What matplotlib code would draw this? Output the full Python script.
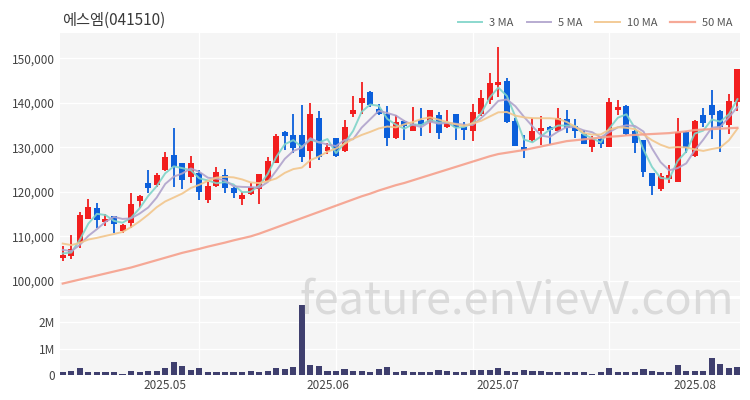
import numpy as np
import pandas as pd
import matplotlib
matplotlib.use("Agg")
import matplotlib.pyplot as plt

plt.rcParams['font.family'] = ['Noto Sans CJK KR', 'DejaVu Sans']

# trading days (KRX holidays removed)
holidays = ['2025-05-01', '2025-05-05', '2025-05-06', '2025-06-03']
dates = [d for d in pd.bdate_range('2025-04-15', '2025-08-08')
         if d.strftime('%Y-%m-%d') not in holidays]

# daily prices
opens = [105200, 105600, 108400, 114000, 116400, 113300, 114500, 111200, 113100, 118000,
         121900, 121500, 124900, 128300, 126400, 123400, 124300, 118200, 121400, 123700,
         120900, 118400, 119500, 120600, 122500, 126500, 133500, 132800, 132800, 129200,
         136700, 129200, 132000, 129200, 137500, 139900, 142400, 138600, 137600, 132200,
         135900, 133700, 136100, 135800, 137300, 134500, 137500, 134500, 133700, 137500,
         140600, 144000, 145000, 136000, 130000, 131600, 133700, 134600, 133700, 136300,
         134800, 133100, 130100, 131800, 130100, 138500, 139300, 133700, 131600, 124200,
         120600, 123000, 122300, 133500, 128100, 137300, 139500, 138200, 135000, 140300]
highs = [107800, 110300, 115500, 118500, 117600, 115000, 114600, 112800, 119700, 119200,
         124900, 124300, 129000, 134300, 126500, 128100, 124900, 122300, 125500, 125100,
         121200, 120000, 122000, 124000, 127900, 133100, 133600, 137600, 139500, 139900,
         138200, 130900, 132100, 136100, 141500, 144800, 142700, 139700, 139300, 137300,
         136100, 139100, 138800, 138400, 138000, 138500, 137500, 135800, 139700, 142900,
         146600, 152600, 145700, 136500, 132800, 136500, 137000, 134700, 138800, 138500,
         136300, 133900, 132500, 132400, 141000, 140600, 139500, 133800, 131700, 124300,
         124300, 126000, 136500, 133600, 136100, 138800, 143000, 138300, 142000, 147500]
lows = [104500, 105000, 107300, 113900, 111800, 112300, 110800, 110800, 111900, 116300,
        119700, 121200, 124800, 121200, 120600, 121900, 118200, 117400, 121200, 119800,
        118600, 117100, 119300, 117300, 122300, 126400, 129400, 128700, 126800, 125300,
        127200, 128500, 127800, 129000, 136900, 137600, 139000, 137300, 130300, 131800,
        131600, 133700, 132600, 133300, 131800, 134300, 131600, 131600, 131500, 137000,
        139700, 141400, 135400, 130300, 127500, 131300, 130500, 130700, 133500, 133300,
        132200, 130700, 129000, 129800, 130000, 137300, 132800, 128700, 123300, 119300,
        120300, 122100, 122300, 128800, 127900, 134500, 131800, 129000, 133000, 138200]
closes = [105800, 107100, 114800, 116700, 113700, 114000, 112700, 112500, 117300, 119100,
          120800, 123900, 127800, 125500, 122700, 126400, 120000, 121300, 124500, 120800,
          119700, 119300, 121000, 124000, 127000, 132500, 132600, 129800, 127800, 137600,
          127900, 130100, 128100, 134600, 138400, 141000, 139500, 137500, 132200, 135600,
          134800, 135200, 135000, 138400, 133300, 135400, 134500, 133900, 138000, 141200,
          144400, 144700, 135600, 130300, 129400, 133700, 134300, 133900, 136500, 134300,
          133700, 130700, 131800, 130700, 140300, 139000, 133000, 131000, 124500, 121300,
          123600, 123800, 133500, 129800, 136000, 135500, 137300, 134500, 140500, 147500]
volumes = [0.12, 0.17, 0.27, 0.12, 0.10, 0.10, 0.10, 0.03, 0.15, 0.12,
           0.14, 0.17, 0.27, 0.48, 0.33, 0.20, 0.28, 0.12, 0.12, 0.12,
           0.12, 0.10, 0.14, 0.12, 0.14, 0.25, 0.22, 0.32, 2.68, 0.38,
           0.34, 0.16, 0.16, 0.24, 0.16, 0.16, 0.12, 0.24, 0.32, 0.12,
           0.14, 0.13, 0.12, 0.12, 0.18, 0.15, 0.12, 0.12, 0.18, 0.18,
           0.20, 0.26, 0.14, 0.12, 0.18, 0.15, 0.14, 0.13, 0.13, 0.12,
           0.12, 0.10, 0.05, 0.10, 0.28, 0.13, 0.13, 0.13, 0.24, 0.15,
           0.12, 0.12, 0.37, 0.15, 0.15, 0.15, 0.66, 0.42, 0.25, 0.30]
volumes = [v * 1e6 for v in volumes]

# closes before the window, only used to warm up the short averages
prev_closes = [110500, 109800, 109200, 110000, 109500, 108500, 107800, 106500, 106200]

# 50-day average (needs history outside the window)
ma50 = [99400, 99850, 100300, 100750, 101200, 101650, 102100, 102550, 103000, 103550,
        104100, 104650, 105200, 105750, 106300, 106750, 107200, 107700, 108150, 108600,
        109100, 109550, 110000, 110600, 111300, 112000, 112700, 113400, 114100, 114800,
        115500, 116200, 116900, 117600, 118300, 119000, 119600, 120300, 120900, 121500,
        122000, 122600, 123200, 123800, 124400, 125000, 125600, 126200, 126800, 127400,
        128000, 128500, 128800, 129100, 129400, 129800, 130200, 130600, 131000, 131400,
        131600, 131800, 132000, 132200, 132400, 132500, 132700, 132800, 132900, 133000,
        133100, 133200, 133400, 133600, 133900, 134000, 134100, 134200, 134300, 134400]

# %%
n = len(closes)
x = np.arange(n)
all_close = pd.Series(prev_closes + closes)
ma = {w: all_close.rolling(w).mean().values[len(prev_closes):] for w in (3, 5, 10)}

up_col, dn_col = '#f21e1e', '#0b5fdb'
cols = [up_col if c >= o else dn_col for o, c in zip(opens, closes)]

fig = plt.figure(figsize=(7.5, 4), dpi=100)
ax = fig.add_axes([60/750, 1 - 296/400, 680/750, 263/400])
axv = fig.add_axes([60/750, 1 - 375/400, 680/750, 76/400], sharex=ax)

for a in (ax, axv):
    a.set_facecolor('#f5f5f5')
    for s in a.spines.values():
        s.set_visible(False)
    a.tick_params(length=0, labelsize=8.5, labelcolor='#444444')
    for g in range(16, n, 16):
        a.axvline(g, color='white', lw=1, zorder=0)

# price panel
for yv in range(100000, 160000, 10000):
    ax.axhline(yv, color='white', lw=1, zorder=0)
ax.vlines(x, lows, highs, colors=cols, lw=1.3, zorder=2)
bottoms = [min(o, c) for o, c in zip(opens, closes)]
heights = [max(abs(c - o), 250) for o, c in zip(opens, closes)]
ax.bar(x, heights, bottom=bottoms, width=0.7, color=cols, zorder=3)

ax.plot(x, ma[3], color='#7fd4c9', lw=1.4, alpha=0.9, zorder=4, label='3 MA')
ax.plot(x, ma[5], color='#b0a3cc', lw=1.4, alpha=0.9, zorder=4, label='5 MA')
ax.plot(x, ma[10], color='#f2c68c', lw=1.4, alpha=0.9, zorder=4, label='10 MA')
ax.plot(x, ma50, color='#f5a08c', lw=1.6, alpha=0.9, zorder=4, label='50 MA')

ax.set_ylim(96600, 155700)
ax.set_yticks(range(100000, 160000, 10000))
ax.set_yticklabels([f'{v:,}' for v in range(100000, 160000, 10000)])
ax.tick_params(axis='x', labelbottom=False)
ax.set_xlim(-0.32, 79.3)

# volume panel
for yv in (1e6, 2e6):
    axv.axhline(yv, color='white', lw=1, zorder=0)
axv.bar(x, volumes, width=0.72, color='#3f3f6e', zorder=3)
axv.set_ylim(0, 2.89e6)
axv.set_yticks([0, 1e6, 2e6])
axv.set_yticklabels(['0', '1M', '2M'])

month_idx = [i for i in range(1, n) if dates[i].month != dates[i - 1].month]
axv.set_xticks(month_idx)
axv.set_xticklabels([dates[i].strftime('%Y.%m') for i in month_idx])
axv.tick_params(axis='x', pad=3)

fig.text(62/750, 1 - 20/400, '에스엠(041510)', fontsize=11, color='#3a3a3a',
         ha='left', va='center')
fig.legend(loc='center right', bbox_to_anchor=(742/750, 1 - 23/400), ncol=4,
           frameon=False, fontsize=8, handlelength=2.2, columnspacing=1.2,
           handletextpad=0.6, labelcolor='#555555')

fig.text(517/750, 1 - 300/400, 'feature.enVievV.com', fontsize=32.5, color='#cfcfcf',
         alpha=0.7, fontweight='medium', ha='center', va='center', zorder=10)

fig.savefig('out.png', dpi=100)
